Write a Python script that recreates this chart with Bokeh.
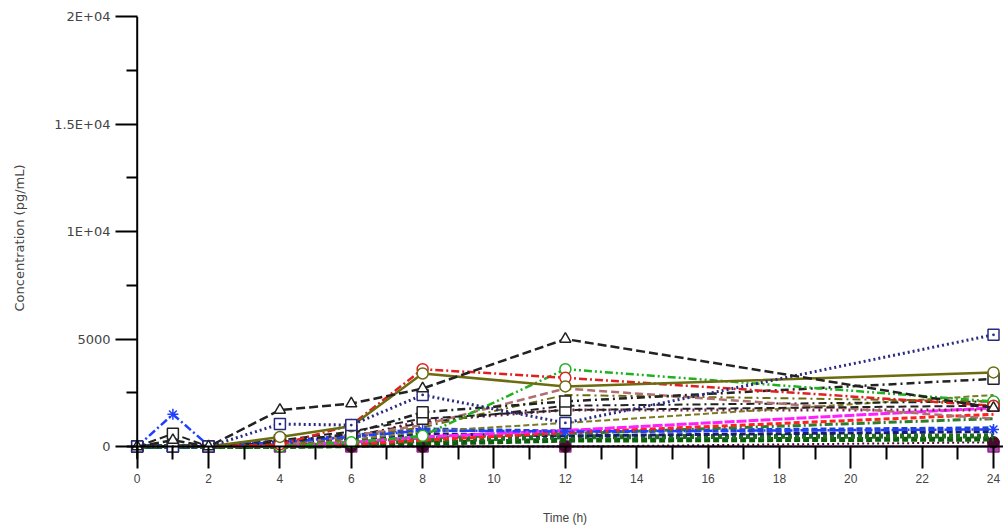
from bokeh.plotting import figure
from bokeh.models import FixedTicker, Span, Range1d
from bokeh.embed import file_html
from bokeh.resources import INLINE

# ---- data ----
times = [0, 1, 2, 4, 6, 8, 12, 24]

subj01 = [0, 300, 0, 1700, 2000, 2700, 5000, 1800]
subj02 = [0, 0, 0, 1050, 1000, 2400, 1100, 5200]
subj03 = [0, 0, 0, 450, 950, 3400, 2800, 3450]
subj04 = [0, 0, 0, 100, 1000, 3600, 3200, 1900]
subj05 = [0, 0, 0, 0, 200, 500, 3600, 2100]
subj06 = [0, 0, 0, 200, 600, 1600, 2100, 3150]
subj07 = [0, 1500, 50, 200, 450, 750, 700, 800]
subj08 = [0, 600, 0, 300, 700, 1300, 1700, 1900]
subj09 = [0, 0, 0, 100, 500, 1000, 2700, 1300]
subj10 = [0, 0, 0, 100, 400, 900, 2400, 2100]
subj11 = [0, 0, 0, 100, 400, 1200, 1700, 1700]
subj12 = [0, 0, 0, 50, 200, 450, 750, 1800]
subj13 = [0, 0, 0, 0, 100, 300, 650, 1500]
subj14 = [0, 0, 0, 0, 200, 400, 600, 1300]
subj15 = [0, 0, 0, 200, 500, 800, 700, 850]
subj16 = [0, 0, 0, 0, 100, 300, 450, 500]
subj17 = [0, 0, 0, 0, 50, 150, 300, 350]
subj18 = [0, 0, 0, 0, 0, 0, 0, 200]
subj19 = [0, 0, 0, 0, 0, 0, 0, 0]
subj20 = [0, 0, 0, 100, 500, 1100, 1900, 2100]
subj21 = [0, 0, 0, 100, 300, 600, 500, 700]
subj22 = [0, 0, 0, 50, 300, 700, 1100, 2400]

y_ticks = [0, 5000, 10000, 15000, 20000]
y_tick_labels = ["0", "5000", "1E+04", "1.5E+04", "2E+04"]
y_minor = [2500, 7500, 12500, 17500]
x_ticks = [0, 2, 4, 6, 8, 10, 12, 14, 16, 18, 20, 22, 24]
x_minor = [1, 3, 5, 7, 9, 11, 13, 15, 17, 19, 21, 23]

# ---- styles (draw order: low first) ----
series = [
    (subj19, "#8a2a8a", None, 2, "square", "#b048b0"),
    (subj18, "#4a0a30", "2 3", 2, "circle", "#4a0a30"),
    (subj17, "#0b5d0b", "6 3", 5, None, None),
    (subj16, "#1f6b1f", "4 3", 5, None, None),
    (subj21, "#1a1a6e", "6 3", 3, None, None),
    (subj15, "#1f3fd0", "6 3", 4, None, None),
    (subj14, "#2d7d2d", "8 3 2 3", 3, None, None),
    (subj13, "#ff2020", "6 3", 3, None, None),
    (subj12, "#ff20ff", "10 2", 3, None, None),
    (subj11, "#7a1f4a", "2 4", 3, None, None),
    (subj22, "#7a7a20", "6 3", 2, None, None),
    (subj20, "#222222", "8 4 2 4", 2, None, None),
    (subj10, "#6b6b10", "8 4 2 4", 2, None, None),
    (subj09, "#b07070", "8 4", 2.5, None, None),
    (subj08, "#222222", "8 4", 2, "square", "white"),
    (subj07, "#2040ff", "8 3 2 3", 2.5, "asterisk", None),
    (subj06, "#222222", "8 4 2 4", 2.5, "square", "white"),
    (subj05, "#20b020", "8 3 2 3 2 3", 2.5, "circle", "white"),
    (subj04, "#e02020", "8 3 2 3", 2.5, "circle", "white"),
    (subj03, "#6b6b10", None, 2.5, "circle", "white"),
    (subj02, "#2a2a80", "2 3", 3, "square_dot", "white"),
    (subj01, "#222222", "9 4", 2.5, "triangle", "white"),
]

p = figure(width=1003, height=527, output_backend="svg", toolbar_location=None,
           x_range=Range1d(-0.3, 24.28), y_range=Range1d(-600, 20000),
           min_border_left=126, min_border_right=0, min_border_top=16,
           min_border_bottom=68)
p.outline_line_color = None
p.xgrid.grid_line_color = None
p.ygrid.grid_line_color = None
p.background_fill_color = "white"

for vals, col, dash, w, mk, fill in series:
    kw = {}
    if dash:
        kw["line_dash"] = dash
    p.line(times, vals, line_color=col, line_width=w, **kw)
    if mk:
        p.scatter(times, vals, marker=mk, size=11, line_color=col,
                  fill_color=fill if fill else col, line_width=1.5)

p.add_layout(Span(location=0, dimension="width", line_color="black", line_width=2))
p.add_layout(Span(location=0, dimension="height", line_color="black", line_width=2))

ya = p.yaxis[0]
ya.ticker = FixedTicker(ticks=y_ticks, minor_ticks=y_minor)
ya.major_label_overrides = {t: l for t, l in zip(y_ticks, y_tick_labels)}
ya.axis_line_color = None
ya.major_tick_in = 11
ya.major_tick_out = 11
ya.minor_tick_in = 11
ya.minor_tick_out = 0
ya.major_tick_line_width = 2
ya.minor_tick_line_width = 2
ya.major_label_standoff = 5
ya.major_label_text_font = "DejaVu Sans"
ya.major_label_text_font_size = "13px"
ya.major_label_text_color = "#444444"
ya.axis_label = "Concentration (pg/mL)"
ya.axis_label_text_font = "DejaVu Sans"
ya.axis_label_text_font_size = "13px"
ya.axis_label_text_font_style = "normal"
ya.axis_label_text_color = "#444444"
ya.axis_label_standoff = 24

xa = p.xaxis[0]
xa.ticker = FixedTicker(ticks=x_ticks, minor_ticks=x_minor)
xa.axis_line_color = None
xa.major_tick_in = 13
xa.major_tick_out = 9
xa.minor_tick_in = 13
xa.minor_tick_out = 0
xa.major_tick_line_width = 2
xa.minor_tick_line_width = 2
xa.major_label_standoff = 5
xa.major_label_text_font = "Liberation Sans"
xa.major_label_text_font_size = "12px"
xa.major_label_text_color = "#444444"
xa.axis_label = "Time (h)"
xa.axis_label_text_font = "Liberation Sans"
xa.axis_label_text_font_size = "12px"
xa.axis_label_text_font_style = "normal"
xa.axis_label_text_color = "#444444"
xa.axis_label_standoff = 25

open("out.html", "w").write(file_html(p, INLINE))
